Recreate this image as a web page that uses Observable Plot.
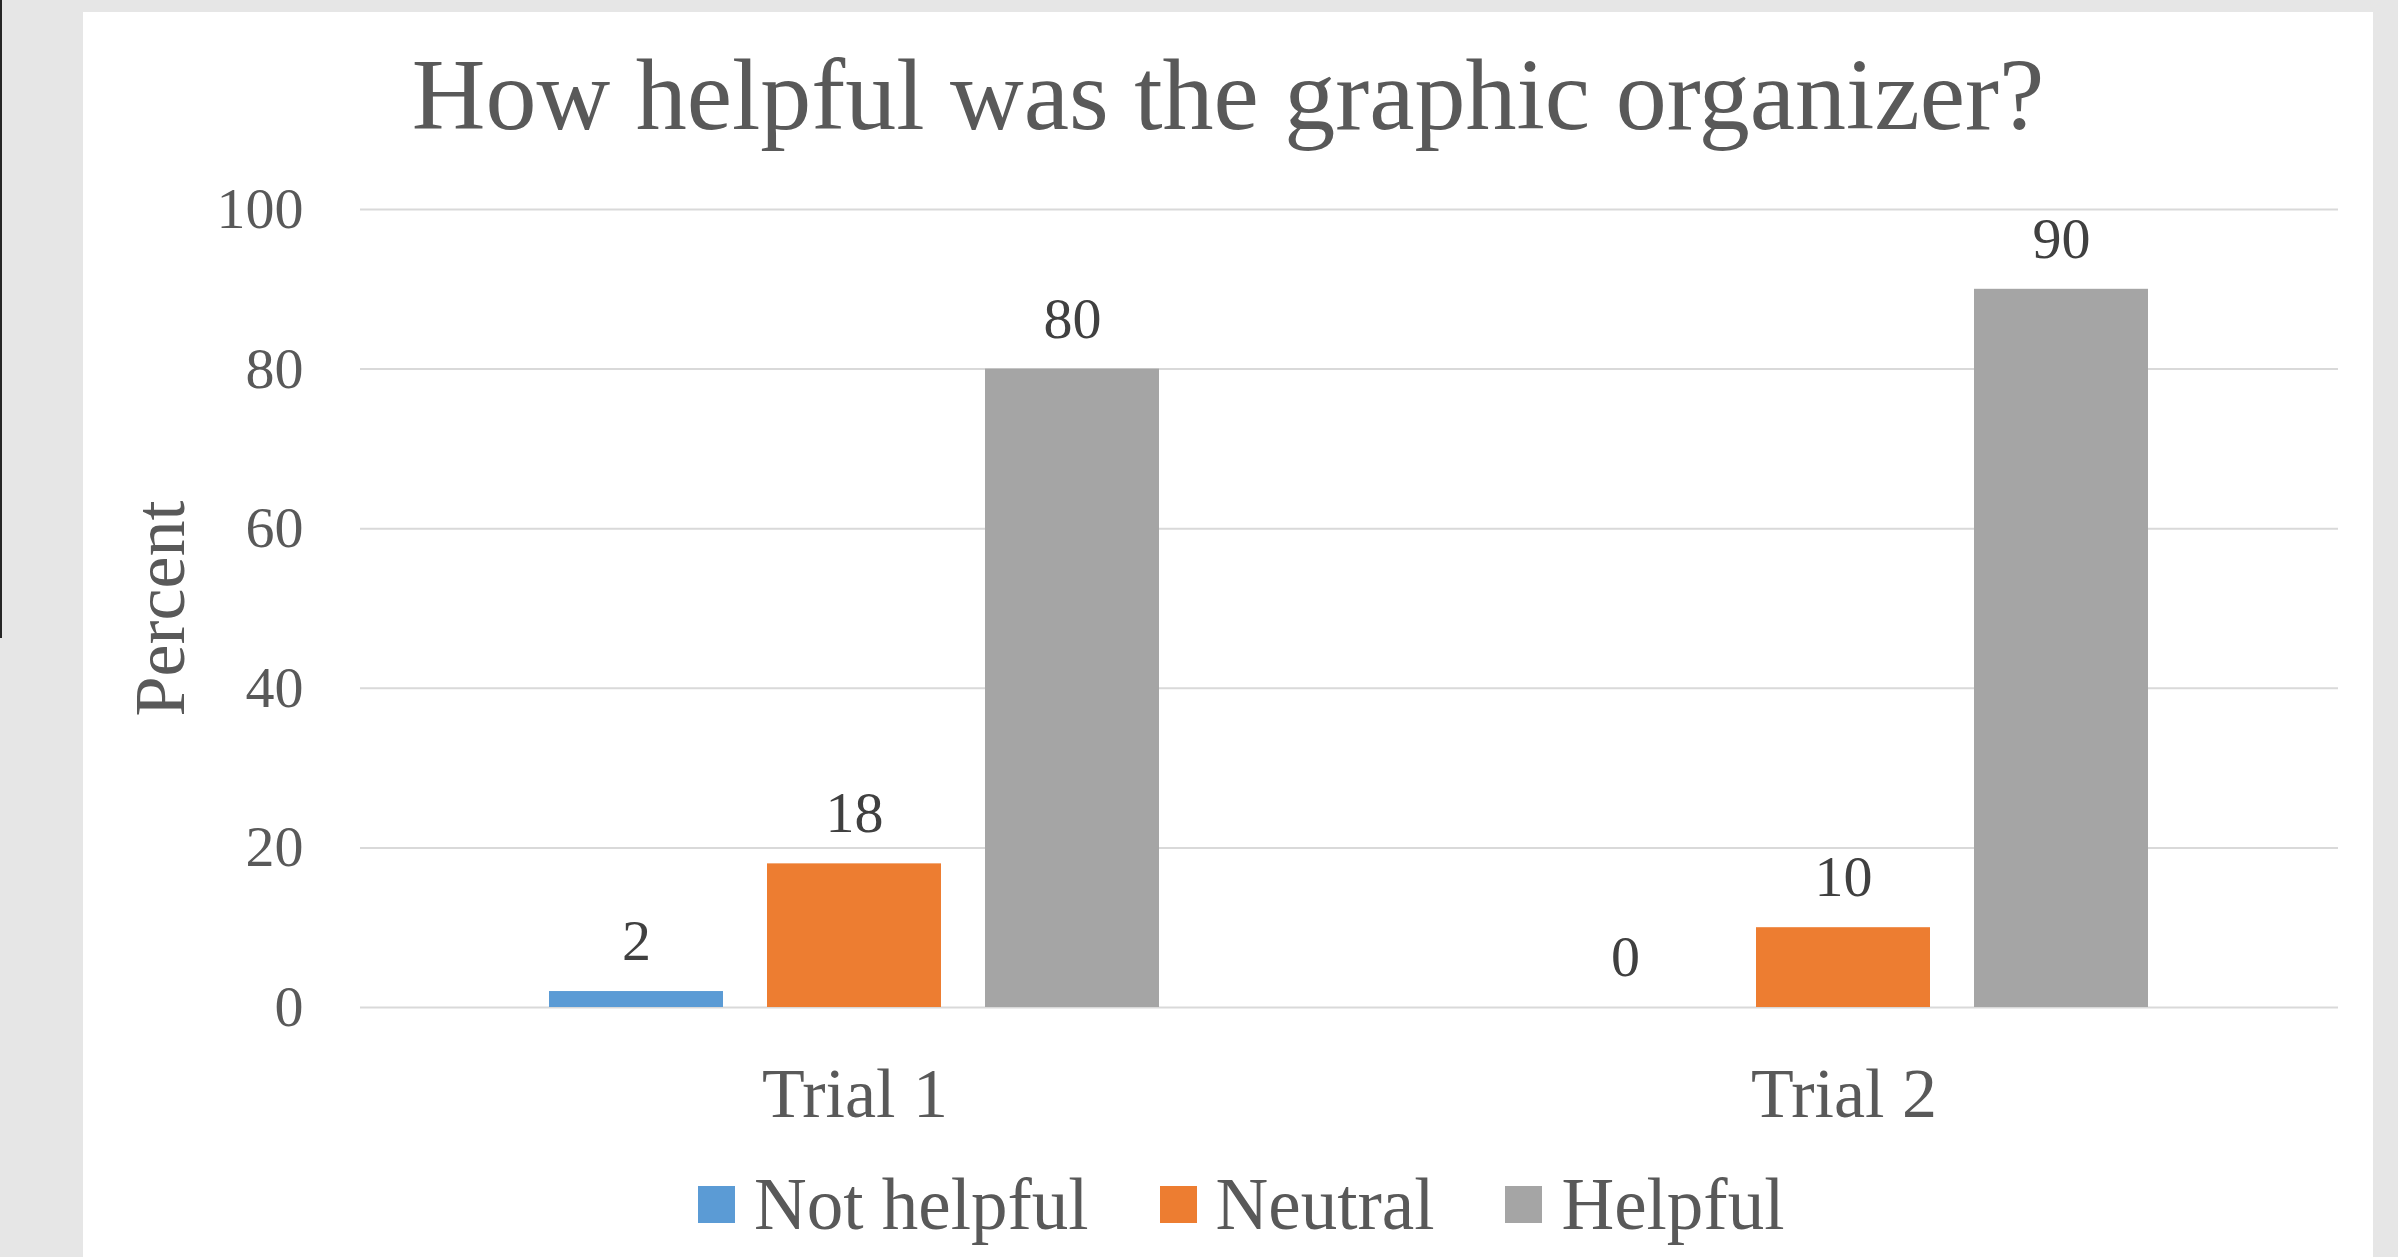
<!DOCTYPE html>
<html><head><meta charset="utf-8">
<script src="https://cdn.jsdelivr.net/npm/d3@7"></script>
<script src="https://cdn.jsdelivr.net/npm/@observablehq/plot@0.6"></script>
<style>
html,body{margin:0;padding:0;}
body{width:2398px;height:1257px;background:#e6e6e6;position:relative;overflow:hidden;font-family:"Liberation Serif",serif;}
#panel{position:absolute;left:83px;top:12px;width:2290px;height:1245px;background:#fff;}
#edge{position:absolute;left:0;top:0;width:2px;height:638px;background:#262626;}
#title{position:absolute;left:83px;width:2290px;top:45px;text-align:center;font-size:102px;line-height:100px;color:#595959;white-space:nowrap;}
#chart{position:absolute;left:83px;top:140px;}
#legend{position:absolute;left:698px;top:1168px;line-height:1;}
.lg-swatch > svg{margin-right:19px !important;}
.lg-swatches-wrap .lg-swatch{margin-right:71px !important;}
</style></head><body>
<div id="panel"></div><div id="edge"></div>
<div id="title"></div>
<div id="chart"></div><div id="legend"></div>
<script>
const trials = ["Trial 1", "Trial 2"];
const series = ["Not helpful", "Neutral", "Helpful"];
const notHelpful = [2, 0];
const neutral = [18, 10];
const helpful = [80, 90];
const colors = ["#5b9bd5", "#ed7d31", "#a5a5a5"];
const yTicks = [0, 20, 40, 60, 80, 100];
const yLabel = "Percent";
const title = "How helpful was the graphic organizer?";

document.getElementById("title").textContent = title;
const values = [notHelpful, neutral, helpful];
const data = trials.flatMap((t, i) => series.map((s, j) => ({trial: t, series: s, value: values[j][i]})));
const font = "'Liberation Serif', serif";

const chart = Plot.plot({
  width: 2290, height: 987,
  marginLeft: 277, marginRight: 35, marginTop: 69, marginBottom: 120,
  style: {fontFamily: font, background: "transparent", overflow: "visible"},
  fx: {domain: trials, padding: 0},
  x: {domain: series, paddingInner: 0.2018, paddingOuter: 0.869, axis: null},
  y: {domain: [0, 100]},
  color: {domain: series, range: colors},
  marks: [
    Plot.ruleY(yTicks, {stroke: "#d9d9d9", strokeWidth: 2}),
    Plot.barY(data, {fx: "trial", x: "series", y: "value", fill: "series"}),
    Plot.text(data, {fx: "trial", x: "series", y: "value", text: "value", dy: -50, fontSize: 58, fill: "#404040"}),
    Plot.axisY({ticks: yTicks, tickSize: 0, tickPadding: 57, fontSize: 58, color: "#595959", label: null}),
    Plot.text([yLabel], {fx: [trials[0]], text: d => d, frameAnchor: "left", textAnchor: "middle", rotate: -90, dx: -200, fontSize: 72, fill: "#595959"}),
    Plot.axisFx({anchor: "bottom", tickSize: 0, tickPadding: 60, fontSize: 70, color: "#595959", label: null})
  ]
});
document.getElementById("chart").appendChild(chart);

const legend = Plot.legend({
  color: {domain: series, range: colors},
  legend: "swatches",
  swatchSize: 37,
  className: "lg",
  style: {fontFamily: font, fontSize: "73px", color: "#595959", lineHeight: "1"}
});
document.getElementById("legend").appendChild(legend);
</script>
</body></html>
